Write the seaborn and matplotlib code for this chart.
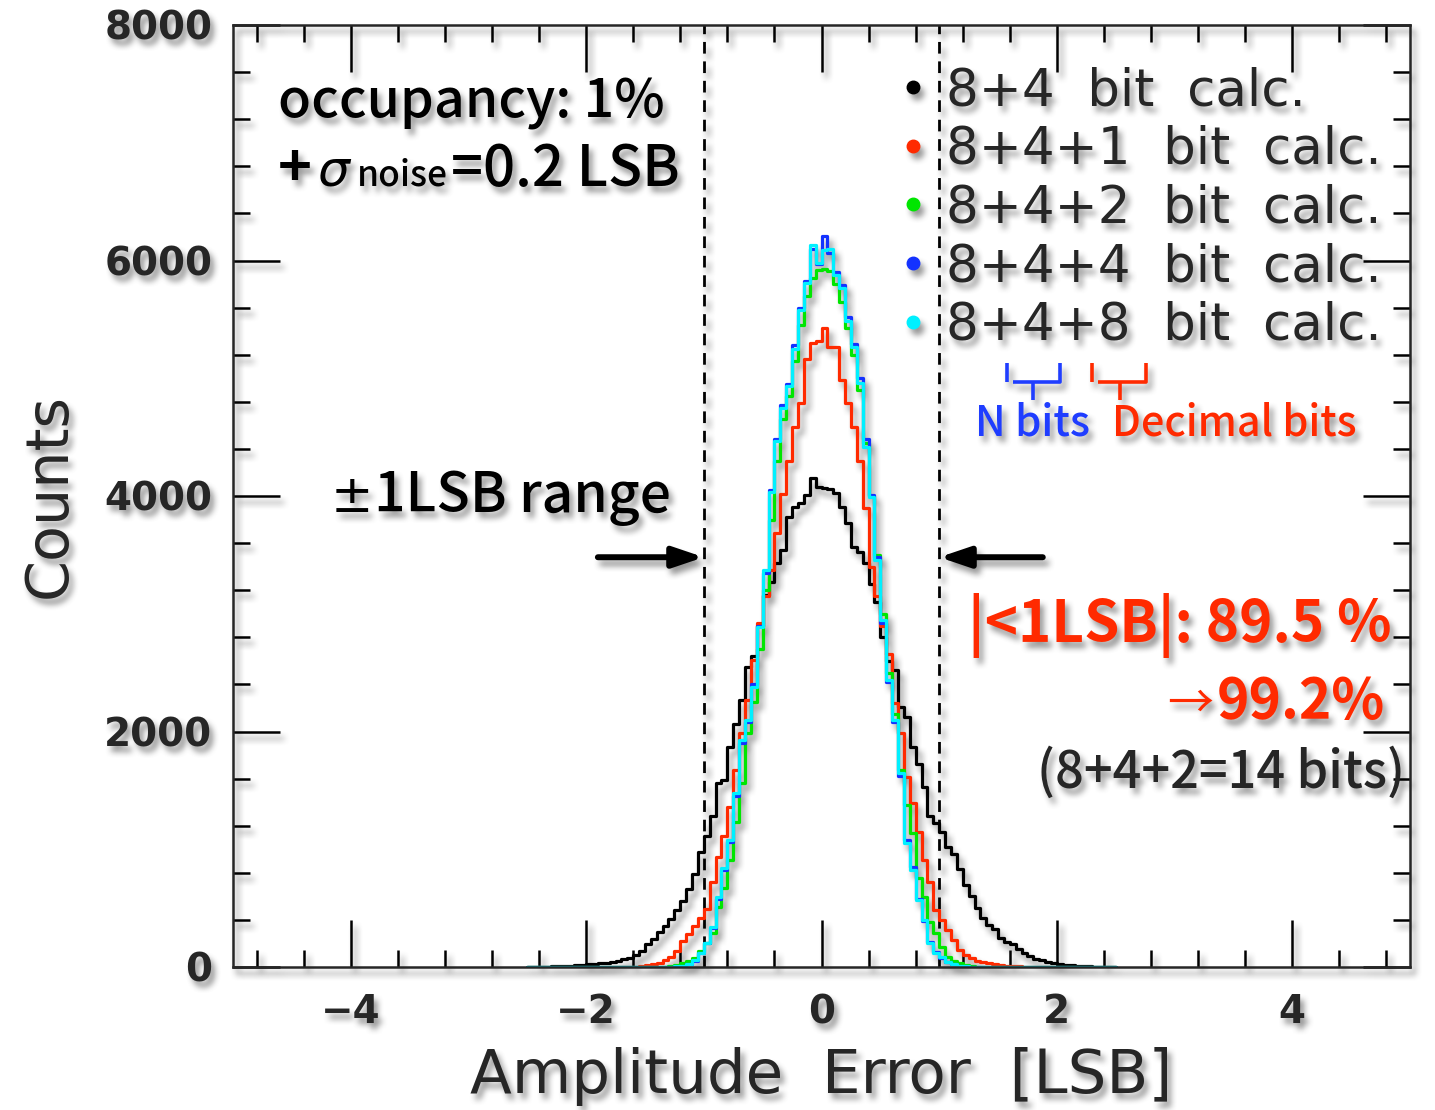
import numpy as np
import pandas as pd
import matplotlib
matplotlib.use("Agg")
import matplotlib.pyplot as plt
import matplotlib.transforms as mtrans
import seaborn as sns
from matplotlib.lines import Line2D
from matplotlib.ticker import MultipleLocator

# ---------------- data (bin contents, bins of 0.05 LSB from -2.5 to 2.5) ----------------
bin_lo, bin_hi, bin_w = -2.5, 2.5, 0.05

series_labels = ["8+4  bit  calc.", "8+4+1  bit  calc.", "8+4+2  bit  calc.",
                 "8+4+4  bit  calc.", "8+4+8  bit  calc."]
series_colors = ["#000000", "#ff2a00", "#00e600", "#1432ff", "#00f0ff"]

counts_8_4 = [0, 2, 3, 4, 6, 8, 10, 12, 15, 19,
              22, 27, 32, 38, 45, 55, 66, 80, 100, 140,
              195, 240, 300, 350, 410, 480, 560, 665, 790, 980,
              1110, 1280, 1560, 1590, 1870, 2060, 2270, 2550, 2640, 2900,
              3160, 3270, 3430, 3540, 3820, 3905, 3940, 4010, 4150, 4080,
              4070, 4060, 4025, 3905, 3770, 3570, 3525, 3430, 3250, 3100,
              2800, 2600, 2520, 2210, 2120, 1870, 1720, 1530, 1280, 1225,
              1145, 1020, 960, 830, 700, 600, 500, 420, 360, 320,
              250, 215, 195, 150, 120, 90, 70, 58, 45, 35,
              28, 20, 15, 11, 8, 6, 4, 3, 2, 1]

counts_8_4_1 = [0] * 17 + [1, 3, 8,
                17, 25, 38, 60, 85, 140, 220, 280, 350, 420,
                490, 720, 930, 1110, 1360, 1670, 1990, 2270, 2610, 2920,
                3150, 3370, 3690, 4020, 4300, 4590, 4790, 5160, 5300, 5320,
                5425, 5265, 5265, 4985, 4790, 4585, 4300, 3900, 3400, 3150,
                2900, 2660, 2240, 1990, 1610, 1390, 1150, 910, 720, 485,
                400, 315, 230, 145, 100, 76, 55, 42, 33, 25,
                18, 12, 8, 5, 3, 1] + [0] * 14

counts_8_4_2 = [0] * 23 + [2, 6, 15, 30, 50, 76, 140,
                205, 290, 510, 670, 910, 1230, 1560, 1990, 2250, 2700,
                3200, 3800, 4300, 4650, 4850, 5150, 5450, 5700, 5850, 5920,
                5930, 5910, 5800, 5650, 5430, 5200, 4900, 4450, 4000, 3500,
                3000, 2500, 2150, 1670, 1375, 1140, 760, 595, 385, 290,
                170, 85, 50, 34, 15, 6, 2] + [0] * 23

counts_8_4_4 = [0] * 24 + [1, 4, 10, 22, 55, 115,
                200, 330, 580, 820, 1060, 1450, 1900, 2080, 2400, 2900,
                3350, 4050, 4480, 4770, 4950, 5280, 5600, 5830, 6100, 5970,
                6210, 6060, 5900, 5790, 5520, 5290, 5000, 4480, 4010, 3480,
                2920, 2420, 2080, 1620, 1080, 850, 580, 390, 215, 125,
                80, 40, 22, 10, 4, 1] + [0] * 24

counts_8_4_8 = [0] * 24 + [2, 5, 12, 25, 60, 120,
                205, 340, 595, 840, 1080, 1480, 1930, 2100, 2380, 2890,
                3370, 4030, 4470, 4750, 4930, 5250, 5580, 5810, 6130, 5980,
                6090, 6100, 5880, 5765, 5490, 5265, 4960, 4420, 3990, 3460,
                2950, 2440, 2100, 1650, 1050, 820, 570, 400, 205, 120,
                85, 42, 25, 12, 5, 2] + [0] * 24

all_counts = [counts_8_4, counts_8_4_1, counts_8_4_2, counts_8_4_4, counts_8_4_8]

x_limits = (-5, 5)
y_limits = (0, 8000)
lsb_window = [-1.0, 1.0]


# ---------------- soft drop shadow (agg filter) ----------------
def _box(a, r, axis):
    pad = [(0, 0)] * a.ndim
    pad[axis] = (r + 1, r)
    c = np.cumsum(np.pad(a, pad, mode="constant"), axis=axis)
    n = a.shape[axis]
    hi = np.take(c, np.arange(2 * r + 1, 2 * r + 1 + n), axis=axis)
    lo = np.take(c, np.arange(0, n), axis=axis)
    return (hi - lo) / (2 * r + 1)


class SoftShadow:
    def __init__(self, dx=4, dy=6, r=3, alpha=0.6, gray=0.33):
        self.dx, self.dy, self.r, self.alpha, self.gray = dx, dy, r, alpha, gray

    def __call__(self, im, dpi):
        pad = 20
        src = np.pad(im, [(pad, pad), (pad, pad), (0, 0)], mode="constant")
        a = src[..., 3]
        sh = a
        for _ in range(2):
            sh = _box(_box(sh, self.r, 0), self.r, 1)
        sh = np.roll(np.roll(sh, self.dy, axis=0), self.dx, axis=1) * self.alpha
        out_a = a + sh * (1 - a)
        safe = np.where(out_a > 1e-6, out_a, 1.0)
        out = np.empty_like(src)
        for k in range(3):
            out[..., k] = (src[..., k] * a + self.gray * sh * (1 - a)) / safe
        out[..., 3] = out_a
        return np.clip(out, 0, 1), -pad, -pad


# ---------------- figure ----------------
sns.set_style("ticks")
plt.rcParams["font.family"] = ["DejaVu Sans"]
plt.rcParams["axes.linewidth"] = 1.8

W, H = 1435, 1110
fig = plt.figure(figsize=(W / 100, H / 100), dpi=100, facecolor="white")
ax = fig.add_axes([233 / W, 1 - 967 / H, (1410 - 233) / W, (967 - 25) / H])
ax.patch.set_facecolor("none")

n_bins = int(round((bin_hi - bin_lo) / bin_w))
edges = np.linspace(bin_lo, bin_hi, n_bins + 1)
centers = 0.5 * (edges[:-1] + edges[1:])

for cnt, col in zip(all_counts, series_colors):
    df = pd.DataFrame({"err": centers, "n": np.asarray(cnt, dtype=float)})
    sns.histplot(data=df, x="err", weights="n", binwidth=bin_w, binrange=(bin_lo, bin_hi),
                 element="step", fill=False, color=col, linewidth=2.3, ax=ax)

for xv in lsb_window:
    ax.axvline(xv, color="black", lw=2.0, ls=(0, (4.2, 2.8)), zorder=1)

ax.set_xlim(*x_limits)
ax.set_ylim(*y_limits)
ax.xaxis.set_major_locator(MultipleLocator(2))
ax.xaxis.set_minor_locator(MultipleLocator(0.4))
ax.yaxis.set_major_locator(MultipleLocator(2000))
ax.yaxis.set_minor_locator(MultipleLocator(400))
ax.tick_params(which="both", direction="in", top=True, right=True, width=1.8, color="black")
ax.tick_params(which="major", length=34)
ax.tick_params(which="minor", length=12)
ax.tick_params(axis="y", which="major", labelsize=28, pad=15)
ax.tick_params(axis="x", which="major", labelsize=28, pad=19)
for lab in ax.get_xticklabels() + ax.get_yticklabels():
    lab.set_fontweight("bold")

xl = ax.set_xlabel("Amplitude  Error  [LSB]", fontsize=44, labelpad=11)
yl = ax.set_ylabel("Counts", fontsize=40, labelpad=19)

# legend
handles = [Line2D([], [], marker="o", ls="", color=c, markersize=9) for c in series_colors]
leg = ax.legend(handles, series_labels, loc="upper left",
                bbox_to_anchor=(898 / W, 1 - 66 / H), bbox_transform=fig.transFigure,
                frameon=False, handlelength=0.6, handletextpad=0.34,
                labelspacing=0.17, borderpad=0, borderaxespad=0,
                prop={"size": 37})

# ---------------- annotations (pixel positions) ----------------
ident = mtrans.IdentityTransform()
renderer = fig.canvas.get_renderer()
JP = ["Noto Sans CJK JP", "DejaVu Sans"]


def fit(t, target, dim="w"):
    for _ in range(3):
        bb = t.get_window_extent(renderer=renderer)
        cur = bb.width if dim == "w" else bb.height
        t.set_fontsize(t.get_fontsize() * target / cur)
    return t


def ptext(x, y, s, target_w=None, ha="left", **kw):
    t = ax.text(x, H - y, s, transform=ident, ha=ha, va="baseline", clip_on=False, **kw)
    return fit(t, target_w) if target_w else t


fit(yl, 205, "h")

ptext(278, 117, "occupancy: 1%", 387, family=JP, weight="medium", color="black")
rng = ptext(374, 512, "1LSB range", 297, family=JP, weight="medium", color="black")
ptext(373, 512, "±", None, ha="right", family=["DejaVu Sans"], color="black",
      fontsize=rng.get_fontsize() * 0.92)

# "+ sigma_noise = 0.2 LSB" built from pieces
ptext(278, 186, "+", 34, family=JP, weight="bold", color="black")
ptext(317, 186, "σ", 32, family=["DejaVu Sans"], style="italic", color="black")
ptext(357, 186, "noise", 91, family=JP, weight="medium", color="black")
ptext(451, 186, "=0.2 LSB", 229, family=JP, weight="medium", color="black")

blue_txt = "#1f3dff"
red_txt = "#ff2a00"
ptext(975, 435, "N bits", 115, family=JP, weight="medium", color=blue_txt)
ptext(1112, 435, "Decimal bits", 245, family=JP, weight="medium", color=red_txt)

ptext(968, 642, "|<1LSB|: 89.5 %", 424, family=JP, weight="bold", color=red_txt)
ptext(1385, 718, "99.2%", 168, ha="right", family=JP, weight="bold", color=red_txt)
ptext(1213, 718, "→", 46, ha="right", family=JP, weight="normal", color=red_txt)
ptext(1405, 788, "(8+4+2=14 bits)", 368, ha="right", family=JP, weight="medium", color="#262626")


# brackets above "N bits" / "Decimal bits"
def pline(xs, ys, col):
    ax.add_line(Line2D(xs, [H - v for v in ys], transform=ident, color=col, lw=2.6,
                       solid_capstyle="butt", clip_on=False))


pline([1007, 1007], [363, 382], blue_txt)
pline([1013, 1060, 1060], [382, 382, 363], blue_txt)
pline([1033, 1033], [382, 400], blue_txt)
pline([1092, 1092], [363, 382], red_txt)
pline([1098, 1146, 1146], [382, 382, 363], red_txt)
pline([1120, 1120], [382, 400], red_txt)

# arrows pointing at the +-1 LSB window
arrow_y = 3480
arrow_style = "-|>,head_length=0.65,head_width=0.22"
ax.annotate("", xy=(lsb_window[0], arrow_y), xytext=(-1.90, arrow_y),
            arrowprops=dict(arrowstyle=arrow_style, lw=4.3, color="black",
                            mutation_scale=28, shrinkA=0, shrinkB=0))
ax.annotate("", xy=(lsb_window[1], arrow_y), xytext=(1.88, arrow_y),
            arrowprops=dict(arrowstyle=arrow_style, lw=4.3, color="black",
                            mutation_scale=28, shrinkA=0, shrinkB=0))

# soft grey drop shadow under everything drawn by the axes
ax.set_agg_filter(SoftShadow())

fig.savefig("out.png", dpi=100, facecolor="white")
